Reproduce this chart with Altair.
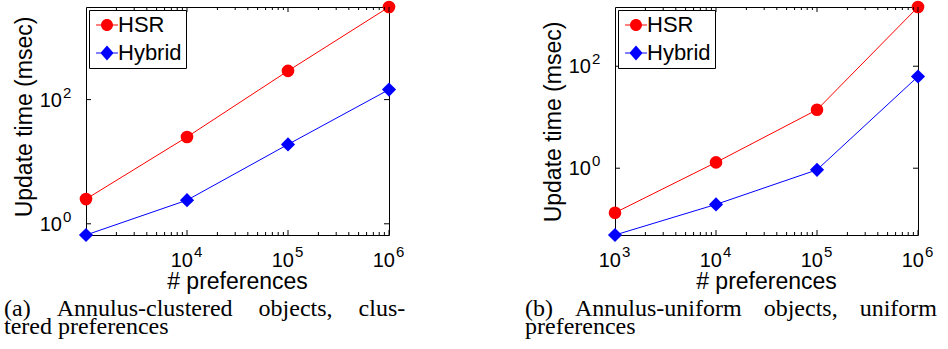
import altair as alt
import pandas as pd

# ---- data ----
preferences = [1e3, 1e4, 1e5, 1e6]
a_hsr = [2.5, 25, 290, 3100]
a_hybrid = [0.66, 2.4, 19, 145]
b_hsr = [0.134, 1.3, 14, 1450]
b_hybrid = [0.049, 0.195, 0.93, 63]
series_names = ["HSR", "Hybrid"]
series_colors = ["#ff0000", "#0000ff"]

a_xtick_values = [1e4, 1e5, 1e6]
a_xtick_exps = ["4", "5", "6"]
b_xtick_values = [1e3, 1e4, 1e5, 1e6]
b_xtick_exps = ["3", "4", "5", "6"]
ytick_values = [1, 100]
ytick_exps = ["0", "2"]
minor_x_ticks = [2e3, 3e3, 4e3, 5e3, 6e3, 7e3, 8e3, 9e3,
                 2e4, 3e4, 4e4, 5e4, 6e4, 7e4, 8e4, 9e4,
                 2e5, 3e5, 4e5, 5e5, 6e5, 7e5, 8e5, 9e5]
major_x_ticks = [1e4, 1e5, 1e6]

x_title = "# preferences"
y_title = "Update time (msec)"
G = " \u2002\u2004"
caption_a = ["(a)" + G + "Annulus-clustered" + G + "objects," + G + "clus-",
             "tered preferences"]
G2 = " \u2004\u2004"
caption_b = ["(b)" + G2 + "Annulus-uniform" + G2 + "objects," + G2 + "uniform",
             "preferences"]

SANS = "Liberation Sans"
SERIF = "Liberation Serif"
W, H = 303, 228

legend_paths = [
    "M-1.83,-0.09H-0.95V0.09H-1.83Z M0.95,-0.09H1.83V0.09H0.95Z "
    "M1,0A1,1,0,1,1,-1,0A1,1,0,1,1,1,0Z",
    "M-1.83,-0.09H-1V0.09H-1.83Z M1,-0.09H1.83V0.09H1Z "
    "M-1.1,0L0,-1.25L1.1,0L0,1.25Z",
]


def panel(hsr, hybrid, xt_vals, xt_exps, caption, cap_dx, ytitle_center):
    df = pd.DataFrame({
        "x": preferences * 2,
        "y": hsr + hybrid,
        "series": ["HSR"] * len(hsr) + ["Hybrid"] * len(hybrid),
    })
    ymin, ymax = min(hsr + hybrid), max(hsr + hybrid)
    xs = alt.Scale(type="log", domain=[1e3, 1e6], nice=False)
    ys = alt.Scale(type="log", domain=[ymin, ymax], nice=False)
    col = alt.Scale(domain=series_names, range=series_colors)
    base = alt.Chart(df)

    leg = alt.Legend(
        title=None, orient="none", legendX=3, legendY=3,
        labelFont=SANS, labelFontSize=22, labelColor="black",
        symbolSize=144, symbolStrokeWidth=0, symbolOffset=3, labelOffset=0,
        padding=4, rowPadding=6, strokeColor="black", fillColor="white",
        cornerRadius=0, symbolOpacity=1,
    )
    legend_layer = base.transform_filter("false").mark_point(
        filled=True, opacity=1).encode(
        x=alt.X("x:Q", scale=xs, axis=None),
        y=alt.Y("y:Q", scale=ys, axis=None),
        color=alt.Color("series:N", scale=alt.Scale(domain=series_names, range=series_colors), legend=leg),
        shape=alt.Shape("series:N", scale=alt.Scale(domain=series_names, range=legend_paths), legend=leg),
    )

    line = base.mark_line(strokeWidth=1, clip=False).encode(
        x=alt.X("x:Q", scale=xs, axis=None),
        y=alt.Y("y:Q", scale=ys, axis=None),
        color=alt.Color("series:N", scale=col, legend=None),
    )
    circles = base.transform_filter(alt.datum.series == "HSR").mark_point(
        filled=True, shape="circle", size=160, opacity=1, clip=False).encode(
        x=alt.X("x:Q", scale=xs, axis=None),
        y=alt.Y("y:Q", scale=ys, axis=None),
        color=alt.Color("series:N", scale=col, legend=None),
    )
    diamonds = base.transform_filter(alt.datum.series == "Hybrid").mark_point(
        filled=True, shape="diamond", size=200, opacity=1, clip=False).encode(
        x=alt.X("x:Q", scale=xs, axis=None),
        y=alt.Y("y:Q", scale=ys, axis=None),
        color=alt.Color("series:N", scale=col, legend=None),
    )

    minor_df = pd.DataFrame({"v": minor_x_ticks})
    major_df = pd.DataFrame({"v": major_x_ticks})
    ytk_df = pd.DataFrame({"v": ytick_values, "e": ytick_exps, "b": ["10"] * len(ytick_values)})
    xtk_df = pd.DataFrame({"v": xt_vals, "e": xt_exps, "b": ["10"] * len(xt_vals)})

    def xrule(df_, y0, y1):
        return alt.Chart(df_).mark_rule(color="black", strokeWidth=1).encode(
            x=alt.X("v:Q", scale=xs, axis=None),
            y=alt.value(y0), y2=alt.value(y1))

    def yrule(x0, x1):
        return alt.Chart(ytk_df).mark_rule(color="black", strokeWidth=1).encode(
            y=alt.Y("v:Q", scale=ys, axis=None),
            x=alt.value(x0), x2=alt.value(x1))

    rules = [
        xrule(minor_df, H, H - 3), xrule(minor_df, 0, 3),
        xrule(major_df, H, H - 5), xrule(major_df, 0, 5),
        yrule(0, 5), yrule(W, W - 5),
    ]

    xbase = alt.Chart(xtk_df).mark_text(
        align="right", baseline="alphabetic", dx=6, font=SANS, fontSize=20, color="black").encode(
        x=alt.X("v:Q", scale=xs, axis=None), y=alt.value(H + 32), text="b:N")
    xexp = alt.Chart(xtk_df).mark_text(
        align="left", baseline="alphabetic", dx=7, font=SANS, fontSize=15, color="black").encode(
        x=alt.X("v:Q", scale=xs, axis=None), y=alt.value(H + 22), text="e:N")
    ybase = alt.Chart(ytk_df).mark_text(
        align="right", baseline="alphabetic", dy=7, font=SANS, fontSize=20, color="black").encode(
        y=alt.Y("v:Q", scale=ys, axis=None), x=alt.value(-24), text="b:N")
    yexp = alt.Chart(ytk_df).mark_text(
        align="left", baseline="alphabetic", dy=-2, font=SANS, fontSize=15, color="black").encode(
        y=alt.Y("v:Q", scale=ys, axis=None), x=alt.value(-23), text="e:N")

    xt = alt.Chart(pd.DataFrame({"t": [x_title]})).mark_text(
        align="center", baseline="alphabetic", font=SANS, fontSize=23, color="black").encode(
        x=alt.value(W / 2), y=alt.value(H + 54), text="t:N")
    yt = alt.Chart(pd.DataFrame({"t": [y_title]})).mark_text(
        align="center", baseline="alphabetic", angle=270, font=SANS, fontSize=23,
        color="black").encode(
        x=alt.value(-54), y=alt.value(ytitle_center), text="t:N")

    return alt.layer(line, circles, diamonds, legend_layer, *rules,
                     xbase, xexp, ybase, yexp, xt, yt).properties(
        width=W, height=H,
        title=alt.TitleParams(
            text=caption, orient="bottom", anchor="start", frame="group",
            font=SERIF, fontSize=24, fontWeight="normal", lineHeight=18,
            color="black", dx=cap_dx, offset=3),
    ).resolve_scale(color="independent", shape="independent")


pa = panel(a_hsr, a_hybrid, a_xtick_values, a_xtick_exps, caption_a, -82, 110)
pb = panel(b_hsr, b_hybrid, b_xtick_values, b_xtick_exps, caption_b, -90, 115)

chart = alt.hconcat(pa, pb, spacing=118).resolve_scale(
    x="independent", y="independent", color="independent", shape="independent",
).resolve_legend(
    shape="independent", color="independent",
).properties(
    padding={"left": 3, "top": 0, "right": 0, "bottom": 0},
    background="white",
).configure_view(stroke="black", strokeWidth=1).configure_title(fontWeight="normal")

chart.save("out.html", embed_options={"renderer": "svg", "actions": False})
